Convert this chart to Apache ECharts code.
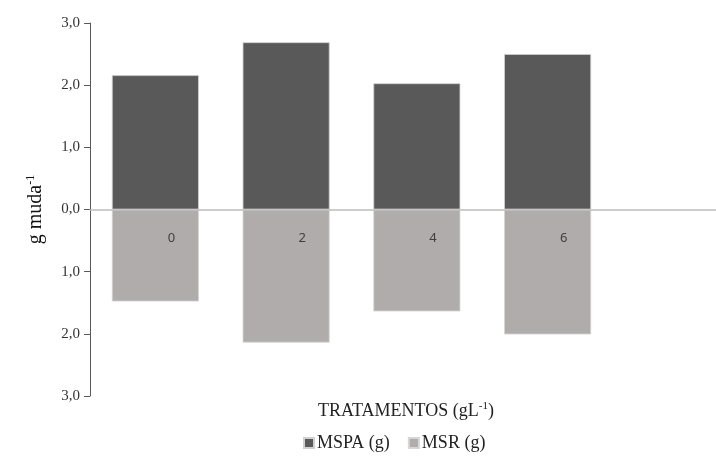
<!DOCTYPE html>
<html>
<head>
<meta charset="utf-8">
<script src="https://cdn.jsdelivr.net/npm/echarts@6/dist/echarts.min.js"></script>
<style>
  html, body { margin: 0; padding: 0; background: #fff; }
  #chart { width: 716px; height: 456px; }
</style>
</head>
<body>
<div id="chart"></div>
<script>
// Treatments (salt concentration, g/L) and dry mass per seedling
const tratamentos = ['0', '2', '4', '6'];
const mspa = [2.16, 2.69, 2.03, 2.50];   // shoot dry mass (g), drawn upward
const msr = [1.48, 2.14, 1.64, 2.01];    // root dry mass (g), drawn downward
const yTicks = { min: -3, max: 3, step: 1 };

const serif = '"Liberation Serif", "Times New Roman", serif';
const fmt = v => Math.abs(v).toFixed(1).replace('.', ',');

// plot box
const TOP = 23, BOTTOM = 60, LEFT = 90, RIGHT = 103;
const H = 456 - TOP - BOTTOM;
const zeroFromBottom = BOTTOM + H / 2;   // upper half box ends at the zero line
const LABEL_SHIFT = 16;                  // category labels sit a little right of bar centres

const chart = echarts.init(document.getElementById('chart'), null, { renderer: 'canvas' });

chart.setOption({
  animation: false,
  backgroundColor: '#ffffff',
  textStyle: { fontFamily: serif },
  grid: [
    { left: LEFT, right: RIGHT, top: TOP, bottom: BOTTOM },
    { left: LEFT, right: 0, top: TOP, bottom: BOTTOM },
    { left: LEFT + LABEL_SHIFT, right: RIGHT - LABEL_SHIFT, top: TOP, bottom: zeroFromBottom }
  ],
  legend: {
    top: 429,
    left: 298,
    itemWidth: 10,
    itemHeight: 10,
    itemGap: 18,
    icon: 'rect',
    textStyle: { fontFamily: serif, fontSize: 18, color: '#222', padding: [0, 0, 0, -2] },
    data: ['MSPA (g)', 'MSR (g)']
  },
  xAxis: [
    {
      type: 'category',
      gridIndex: 0,
      data: tratamentos,
      axisLine: { show: false },
      axisTick: { show: false },
      axisLabel: { show: false }
    },
    {
      // zero baseline running across the full plot width
      type: 'value',
      gridIndex: 1,
      min: 0,
      max: 1,
      z: 5,
      axisLine: { show: true, onZero: true, lineStyle: { color: '#bdbdbd', width: 1.5 } },
      axisTick: { show: false },
      axisLabel: { show: false },
      splitLine: { show: false }
    },
    {
      // category labels hanging just under the zero baseline
      type: 'category',
      gridIndex: 2,
      position: 'bottom',
      data: tratamentos,
      z: 6,
      axisLine: { show: false },
      axisTick: { show: false },
      axisLabel: {
        margin: 22,
        fontFamily: '"Noto Sans", "Open Sans", sans-serif',
        fontSize: 13,
        color: '#404040'
      }
    }
  ],
  yAxis: [
    {
      type: 'value',
      gridIndex: 0,
      min: yTicks.min,
      max: yTicks.max,
      interval: yTicks.step,
      name: '{n|g muda}{s|-1}',
      nameLocation: 'middle',
      nameRotate: 90,
      nameGap: 43,
      nameTextStyle: {
        rich: {
          n: { fontFamily: serif, fontSize: 20, color: '#111' },
          s: { fontFamily: serif, fontSize: 12, color: '#111', verticalAlign: 'top', padding: [0, 0, 10, 0] }
        }
      },
      axisLine: { show: true, onZero: false, lineStyle: { color: '#595959', width: 1 } },
      axisTick: { show: true, inside: false, length: 6, lineStyle: { color: '#595959' } },
      axisLabel: {
        margin: 10,
        fontFamily: serif,
        fontSize: 15,
        color: '#333',
        formatter: fmt
      },
      splitLine: { show: false }
    },
    {
      type: 'value',
      gridIndex: 1,
      min: yTicks.min,
      max: yTicks.max,
      show: false
    },
    {
      type: 'value',
      gridIndex: 2,
      show: false
    }
  ],
  graphic: [
    {
      type: 'text',
      left: 318,
      top: 401,
      style: {
        rich: {
          n: { fontFamily: serif, fontSize: 18, fill: '#222' },
          s: { fontFamily: serif, fontSize: 11, fill: '#222', verticalAlign: 'top', padding: [0, 0, 9, 0] }
        },
        text: '{n|TRATAMENTOS (gL}{s|-1}{n|)}'
      }
    }
  ],
  series: [
    {
      name: 'MSPA (g)',
      type: 'bar',
      xAxisIndex: 0,
      yAxisIndex: 0,
      stack: 'massa',
      barWidth: 87,
      itemStyle: { color: '#595959', borderColor: '#d0d0d0', borderWidth: 0.8 },
      data: mspa
    },
    {
      name: 'MSR (g)',
      type: 'bar',
      xAxisIndex: 0,
      yAxisIndex: 0,
      stack: 'massa',
      barWidth: 87,
      itemStyle: { color: '#afacab', borderColor: '#d6d6d6', borderWidth: 0.8 },
      data: msr.map(v => -v)
    }
  ]
});
</script>
</body>
</html>
